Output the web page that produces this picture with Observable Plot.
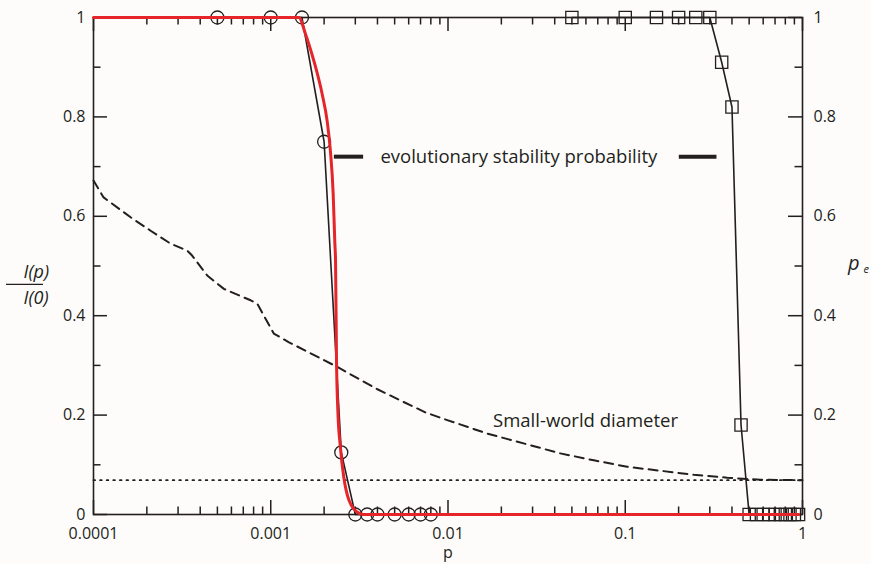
<!DOCTYPE html>
<html><head><meta charset="utf-8">
<script src="https://cdn.jsdelivr.net/npm/d3@7"></script>
<script src="https://cdn.jsdelivr.net/npm/@observablehq/plot@0.6"></script>
<style>
html,body{margin:0;padding:0;background:#fdfcfa;}
</style></head><body><div id="chart"></div>
<script>
// ---- data ----
const circleP = [0.0005, 0.001, 0.0015, 0.002, 0.0025, 0.003, 0.0035, 0.004, 0.005, 0.006, 0.007, 0.008];
const circleI = [1, 1, 1, 0.75, 0.125, 0, 0, 0, 0, 0, 0, 0];

const squareP = [0.05, 0.1, 0.15, 0.2, 0.25, 0.3, 0.35, 0.4, 0.45, 0.5, 0.55, 0.6, 0.65, 0.7, 0.75, 0.8, 0.85, 0.9, 0.95];
const squarePe = [1, 1, 1, 1, 1, 1, 0.91, 0.82, 0.18, 0, 0, 0, 0, 0, 0, 0, 0, 0, 0];

const fitP = [0.0001, 0.00144, 0.00157, 0.00175, 0.00195, 0.00208, 0.00217, 0.00225, 0.0023, 0.00232, 0.00235, 0.00239, 0.00247, 0.00258, 0.00276, 0.00307, 0.0033, 0.95];
const fitI = [1, 1, 0.967, 0.913, 0.846, 0.792, 0.732, 0.645, 0.545, 0.511, 0.31, 0.21, 0.136, 0.076, 0.029, 0.005, 0, 0];

const diamP = [0.0001, 0.000114, 0.000162, 0.00021, 0.000272, 0.000338, 0.00036, 0.000438, 0.000544, 0.00077, 0.00084, 0.00104, 0.00126, 0.00237, 0.004, 0.0055, 0.0075, 0.0099, 0.0166, 0.043, 0.0665, 0.1025, 0.158, 0.244, 0.376, 0.579, 1];
const diamV = [0.672, 0.638, 0.598, 0.571, 0.545, 0.531, 0.521, 0.481, 0.454, 0.431, 0.424, 0.364, 0.347, 0.297, 0.252, 0.228, 0.205, 0.19, 0.163, 0.123, 0.109, 0.096, 0.088, 0.080, 0.074, 0.070, 0.069];

const dotP = [0.0001, 1];
const dotV = [0.069, 0.069];

// annotation: legend dashes and labels
const legDashP1 = [0.00227, 0.2005];
const legDashP2 = [0.00332, 0.327];
const legDashV = [0.72, 0.72];
const annText = ["evolutionary stability probability", "Small-world diameter"];
const annP = [0.0251, 0.0597];
const annV = [0.72, 0.1875];

// axes
const yMajor = [0, 0.2, 0.4, 0.6, 0.8, 1];
const yMinor = [0.1, 0.3, 0.5, 0.7, 0.9];
const xMajor = [0.0001, 0.001, 0.01, 0.1, 1];
const xLabels = ["0.0001", "0.001", "0.01", "0.1", "1"];
const xMinor = [0.0001, 0.001, 0.01, 0.1].flatMap(d => [2,3,4,5,6,7,8,9].map(k => d * k));
const yTitleNum = ["I(p)"], yTitleDen = ["I(0)"], yTitleV = [0.487, 0.436, 0.463];
const y2Title = ["p"], y2Sub = ["e"], y2TitleV = [0.505];
const xTitle = ["p"];

// ---- build ----
const W = 871, H = 564, mL = 93, mR = 69, mT = 17, mB = 50;
const pw = W - mL - mR, ph = H - mT - mB;
const ink = "#231f20";
const red = "#e5252a";
const majorLen = 14, minorLen = 7.5;
const tickFont = 16, annFont = 18.5;

const circles = circleP.map((p, i) => ({p, v: circleI[i]}));
const squares = squareP.map((p, i) => ({p, v: squarePe[i]}));
const fit = fitP.map((p, i) => ({p, v: fitI[i]}));
const diam = diamP.map((p, i) => ({p, v: diamV[i]}));
const dotted = dotP.map((p, i) => ({p, v: dotV[i]}));
const legDash = legDashP1.map((p, i) => ({p1: p, p2: legDashP2[i], v: legDashV[i]}));
const ann = annText.map((t, i) => ({t, p: annP[i], v: annV[i]}));
const xLab = new Map(xMajor.map((v, i) => [v, xLabels[i]]));

const chart = Plot.plot({
  width: W, height: H,
  marginLeft: mL, marginRight: mR, marginTop: mT, marginBottom: mB,
  style: {background: "#fdfcfa", fontFamily: "'Open Sans', sans-serif", fontSize: tickFont + "px", color: ink, overflow: "visible"},
  x: {type: "log", domain: [1e-4, 1]},
  y: {domain: [0, 1]},
  marks: [
    // ticks inward
    Plot.tickY(yMajor, {y: d => d, insetRight: pw - majorLen, stroke: ink, strokeWidth: 1.5}),
    Plot.tickY(yMinor, {y: d => d, insetRight: pw - minorLen, stroke: ink, strokeWidth: 1.5}),
    Plot.tickY(yMajor, {y: d => d, insetLeft: pw - majorLen, stroke: ink, strokeWidth: 1.5}),
    Plot.tickY(yMinor, {y: d => d, insetLeft: pw - minorLen, stroke: ink, strokeWidth: 1.5}),
    Plot.tickX(xMajor, {x: d => d, insetTop: ph - majorLen, stroke: ink, strokeWidth: 1.5}),
    Plot.tickX(xMinor, {x: d => d, insetTop: ph - minorLen, stroke: ink, strokeWidth: 1.5}),
    Plot.tickX(xMajor, {x: d => d, insetBottom: ph - majorLen, stroke: ink, strokeWidth: 1.5}),
    Plot.tickX(xMinor, {x: d => d, insetBottom: ph - minorLen, stroke: ink, strokeWidth: 1.5}),
    Plot.frame({stroke: ink, strokeWidth: 1.6}),
    // axis labels
    Plot.axisY({anchor: "left", ticks: yMajor, tickSize: 0, tickPadding: 8, tickFormat: d => String(d), label: null, fill: ink}),
    Plot.axisY({anchor: "right", ticks: yMajor, tickSize: 0, tickPadding: 11, tickFormat: d => String(d), label: null, fill: ink}),
    Plot.axisX({anchor: "bottom", ticks: xMajor, tickSize: 0, tickPadding: 13, tickFormat: d => xLab.get(d), label: null, fill: ink}),
    // reference lines
    Plot.line(dotted, {x: "p", y: "v", stroke: ink, strokeWidth: 1.8, strokeDasharray: "1.6,5"}),
    Plot.line(diam, {x: "p", y: "v", stroke: ink, strokeWidth: 2, strokeDasharray: "9,6"}),
    // data series
    Plot.line(circles, {x: "p", y: "v", stroke: ink, strokeWidth: 1.6}),
    Plot.line(squares, {x: "p", y: "v", stroke: ink, strokeWidth: 1.6}),
    Plot.dot(circles, {x: "p", y: "v", r: 6.5, stroke: ink, strokeWidth: 1.3, fill: "none"}),
    Plot.dot(squares, {x: "p", y: "v", r: 6.9, symbol: "square", stroke: ink, strokeWidth: 1.3, fill: "none"}),
    Plot.line(fit, {x: "p", y: "v", stroke: red, strokeWidth: 3, curve: "monotone-x"}),
    // annotations
    Plot.link(legDash, {x1: "p1", x2: "p2", y1: "v", y2: "v", stroke: ink, strokeWidth: 4}),
    Plot.text(ann, {x: "p", y: "v", text: "t", fill: ink, fontSize: annFont, textAnchor: "middle"}),
    // axis titles
    Plot.text(xTitle, {frameAnchor: "bottom", dy: 43, fill: ink, fontSize: 16}),
    Plot.text(yTitleNum, {frameAnchor: "left", y: () => yTitleV[0], dx: -70, fill: ink, fontStyle: "italic", fontSize: 18}),
    Plot.text(yTitleDen, {frameAnchor: "left", y: () => yTitleV[1], dx: -70, fill: ink, fontStyle: "italic", fontSize: 18}),
    Plot.tickY([yTitleV[2]], {y: d => d, dx: -87, insetRight: pw - 37, stroke: ink, strokeWidth: 1.2}),
    Plot.text(y2Title, {frameAnchor: "right", y: () => y2TitleV[0], dx: 57, fill: ink, fontStyle: "italic", fontSize: 20}),
    Plot.text(y2Sub, {frameAnchor: "right", y: () => y2TitleV[0], dx: 66.5, dy: 6, fill: ink, fontStyle: "italic", fontSize: 11})
  ]
});
document.getElementById("chart").append(chart);
</script>
</body></html>
